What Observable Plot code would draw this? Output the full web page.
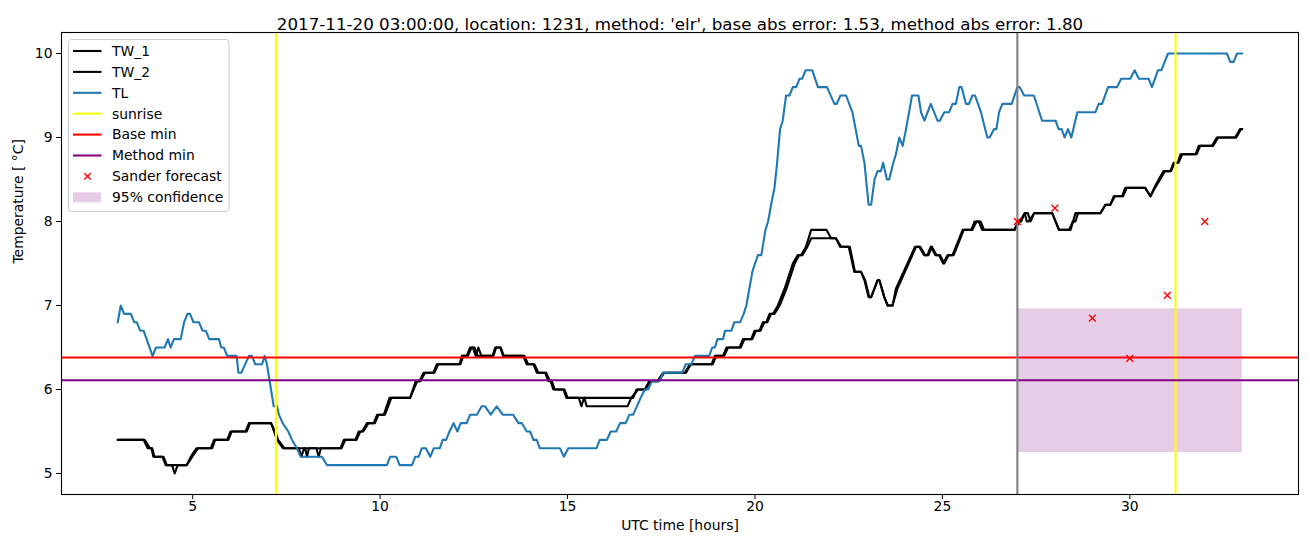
<!DOCTYPE html>
<html><head><meta charset="utf-8">
<script src="https://cdn.jsdelivr.net/npm/d3@7"></script>
<script src="https://cdn.jsdelivr.net/npm/@observablehq/plot@0.6"></script>
<style>body{margin:0;background:#fff} svg{display:block}</style>
</head><body><div id="chart"></div>
<script>
// ---- data (hours UTC, temperature °C) ----
const tlHours = [3.0,3.08,3.17,3.35,3.44,3.51,3.6,3.69,3.93,4.02,4.25,4.34,4.41,4.5,4.68,4.77,4.86,4.93,5.02,5.17,5.26,5.35,5.44,5.7,5.76,5.83,5.92,6.17,6.22,6.3,6.5,6.58,6.67,6.85,6.92,6.98,7.09,7.16,7.25,7.3,7.4,7.55,7.65,7.78,7.88,8.45,8.58,10.18,10.27,10.43,10.52,10.85,10.94,11.03,11.11,11.22,11.34,11.43,11.59,11.67,11.76,11.85,11.96,12.06,12.15,12.31,12.4,12.58,12.71,12.8,12.95,13.11,13.27,13.55,13.69,13.78,13.91,14.0,14.09,14.18,14.26,14.8,14.9,15.02,15.77,15.86,16.05,16.15,16.3,16.4,16.55,16.65,16.75,16.85,16.95,17.06,17.15,17.25,17.45,17.55,18.06,18.15,18.3,18.4,18.78,18.86,18.93,19.0,19.15,19.2,19.37,19.45,19.6,19.7,19.77,19.85,19.93,20.0,20.08,20.17,20.28,20.35,20.43,20.52,20.58,20.67,20.74,20.83,20.92,21.01,21.1,21.19,21.26,21.35,21.53,21.68,21.92,22.12,22.18,22.28,22.43,22.6,22.77,22.83,22.92,23.03,23.1,23.19,23.27,23.36,23.42,23.52,23.58,23.69,23.76,23.85,23.94,24.03,24.19,24.36,24.43,24.52,24.69,24.87,24.93,25.05,25.18,25.27,25.36,25.45,25.51,25.63,25.71,25.8,25.87,26.03,26.14,26.2,26.26,26.38,26.44,26.51,26.6,26.85,27.0,27.06,27.18,27.44,27.66,28.02,28.1,28.18,28.26,28.35,28.44,28.6,29.08,29.17,29.26,29.42,29.66,29.77,30.01,30.13,30.24,30.5,30.59,30.75,30.84,31.02,32.59,32.68,32.77,32.86,33.0];
const tlValues = [6.8,7.0,6.9,6.9,6.8,6.8,6.7,6.7,6.4,6.5,6.5,6.6,6.5,6.6,6.6,6.8,6.9,6.9,6.8,6.8,6.7,6.7,6.6,6.6,6.5,6.5,6.4,6.4,6.2,6.2,6.4,6.4,6.3,6.3,6.4,6.3,6.0,5.8,5.8,5.7,5.6,5.5,5.4,5.3,5.2,5.2,5.1,5.1,5.2,5.2,5.1,5.1,5.2,5.2,5.3,5.3,5.2,5.3,5.3,5.4,5.4,5.5,5.6,5.5,5.6,5.6,5.7,5.7,5.8,5.8,5.7,5.8,5.7,5.7,5.6,5.6,5.5,5.5,5.4,5.4,5.3,5.3,5.2,5.3,5.3,5.4,5.4,5.5,5.5,5.6,5.6,5.7,5.7,5.8,5.9,6.0,6.0,6.1,6.1,6.2,6.2,6.3,6.3,6.4,6.4,6.5,6.5,6.6,6.6,6.7,6.7,6.8,6.8,6.9,7.0,7.2,7.4,7.5,7.6,7.6,7.9,8.0,8.2,8.4,8.65,9.1,9.2,9.5,9.5,9.6,9.6,9.7,9.7,9.8,9.8,9.6,9.6,9.4,9.4,9.5,9.5,9.3,8.9,8.9,8.7,8.2,8.2,8.5,8.6,8.6,8.7,8.5,8.5,8.7,8.8,9.0,8.9,9.1,9.5,9.5,9.3,9.2,9.4,9.2,9.2,9.3,9.3,9.4,9.4,9.6,9.6,9.4,9.4,9.5,9.5,9.3,9.1,9.0,9.0,9.1,9.1,9.3,9.4,9.4,9.6,9.6,9.5,9.5,9.2,9.2,9.1,9.1,9.0,9.1,9.0,9.3,9.3,9.4,9.4,9.6,9.6,9.7,9.7,9.8,9.7,9.7,9.6,9.8,9.8,10.0,10.0,9.9,9.9,10.0,10.0];

const tw1Hours = [3.0,3.69,3.8,3.9,3.95,4.19,4.28,4.45,4.52,4.6,4.84,4.95,5.1,5.48,5.57,5.92,6.01,6.41,6.5,7.09,7.17,7.25,7.41,7.83,7.9,7.97,8.0,8.05,8.1,8.94,9.03,9.34,9.43,9.52,9.65,9.83,9.92,10.1,10.25,10.8,10.95,11.05,11.16,11.42,11.51,12.12,12.18,12.31,12.4,12.47,12.55,12.62,12.7,13.02,13.1,13.22,13.3,13.82,13.91,14.09,14.18,14.4,14.49,14.55,14.62,14.89,14.97,15.3,15.37,15.44,16.75,16.84,17.06,17.18,17.4,17.55,18.13,18.26,18.84,18.93,19.15,19.24,19.59,19.68,19.9,19.99,20.12,20.21,20.3,20.39,20.48,20.61,20.79,21.01,21.14,21.23,21.36,21.5,21.91,22.03,22.16,22.27,22.5,22.65,22.83,22.92,23.03,23.1,23.27,23.32,23.45,23.54,23.67,23.76,24.27,24.38,24.51,24.6,24.69,24.81,24.91,25.02,25.14,25.27,25.45,25.54,25.8,25.91,26.02,26.11,26.91,27.03,27.1,27.2,27.28,27.35,27.45,27.93,28.11,28.42,28.55,29.22,29.35,29.48,29.57,29.79,29.88,30.41,30.55,30.65,30.77,30.9,31.08,31.17,31.28,31.35,31.75,31.84,32.19,32.32,32.81,32.94,33.0];
const tw1Values = [5.4,5.4,5.3,5.3,5.2,5.2,5.1,5.1,5.0,5.1,5.1,5.2,5.3,5.3,5.4,5.4,5.5,5.5,5.6,5.6,5.5,5.4,5.3,5.3,5.2,5.3,5.3,5.2,5.3,5.3,5.4,5.4,5.5,5.5,5.6,5.6,5.7,5.7,5.9,5.9,6.1,6.1,6.2,6.2,6.3,6.3,6.4,6.4,6.5,6.5,6.4,6.5,6.4,6.4,6.5,6.5,6.4,6.4,6.3,6.3,6.2,6.2,6.1,6.1,6.0,6.0,5.9,5.9,5.8,5.9,5.9,6.0,6.0,6.1,6.1,6.2,6.2,6.3,6.3,6.4,6.4,6.5,6.5,6.6,6.6,6.7,6.7,6.8,6.8,6.9,6.9,7.0,7.2,7.5,7.6,7.6,7.7,7.9,7.9,7.8,7.8,7.7,7.7,7.4,7.4,7.3,7.1,7.1,7.3,7.3,7.1,7.0,7.0,7.2,7.7,7.7,7.6,7.6,7.7,7.6,7.6,7.5,7.6,7.6,7.8,7.9,7.9,8.0,8.0,7.9,7.9,8.0,8.0,8.1,8.1,8.0,8.1,8.1,7.9,7.9,8.1,8.1,8.2,8.2,8.3,8.3,8.4,8.4,8.3,8.4,8.5,8.6,8.6,8.7,8.7,8.8,8.8,8.9,8.9,9.0,9.0,9.1,9.1];

// TW_2 as [hour, value] pairs
const tw2Series = [[3.0,5.4],[3.72,5.4],[3.86,5.3],[3.92,5.3],[3.98,5.2],[4.22,5.2],[4.31,5.1],[4.84,5.1],[4.99,5.2],[5.14,5.3],[5.52,5.3],[5.6,5.4],[5.95,5.4],[6.04,5.5],[6.44,5.5],[6.53,5.6],[7.09,5.6],[7.2,5.5],[7.28,5.4],[7.45,5.3],[8.3,5.3],[8.36,5.2],[8.42,5.3],[8.97,5.3],[9.07,5.4],[9.37,5.4],[9.47,5.5],[9.55,5.5],[9.69,5.6],[9.86,5.6],[9.96,5.7],[10.13,5.7],[10.3,5.9],[10.8,5.9],[10.99,6.1],[11.08,6.1],[11.2,6.2],[11.45,6.2],[11.55,6.3],[12.14,6.3],[12.22,6.4],[12.34,6.4],[12.44,6.5],[12.52,6.5],[12.6,6.4],[13.0,6.4],[13.07,6.5],[13.2,6.5],[13.28,6.4],[13.85,6.4],[13.95,6.3],[14.12,6.3],[14.22,6.2],[14.43,6.2],[14.53,6.1],[14.58,6.1],[14.66,6.0],[14.92,6.0],[15.0,5.9],[15.45,5.9],[15.51,5.8],[16.6,5.8],[16.7,5.9],[16.88,6.0],[17.08,6.0],[17.21,6.1],[17.43,6.1],[17.58,6.2],[18.16,6.2],[18.29,6.3],[18.87,6.3],[18.97,6.4],[19.18,6.4],[19.28,6.5],[19.62,6.5],[19.72,6.6],[19.93,6.6],[20.03,6.7],[20.15,6.7],[20.25,6.8],[20.33,6.8],[20.43,6.9],[20.52,6.9],[20.66,7.0],[20.84,7.2],[21.06,7.5],[21.18,7.6],[21.27,7.6],[21.4,7.7],[21.5,7.8],[22.16,7.8],[22.3,7.7],[22.53,7.7],[22.67,7.4],[22.83,7.4],[22.94,7.3],[23.05,7.1],[23.1,7.1],[23.27,7.3],[23.32,7.3],[23.45,7.1],[23.54,7.0],[23.67,7.0],[23.8,7.2],[24.3,7.7],[24.41,7.7],[24.54,7.6],[24.63,7.6],[24.72,7.7],[24.84,7.6],[24.94,7.6],[25.05,7.5],[25.17,7.6],[25.3,7.6],[25.48,7.8],[25.57,7.9],[25.77,7.9],[25.86,8.0],[25.97,8.0],[26.06,7.9],[26.93,7.9],[27.06,8.0],[27.2,8.1],[27.25,8.0],[27.3,8.0],[27.45,8.1],[27.93,8.1],[28.11,7.9],[28.38,7.9],[28.48,8.0],[28.55,8.0],[28.62,8.1],[29.22,8.1],[29.35,8.2],[29.48,8.2],[29.6,8.3],[29.82,8.3],[29.92,8.4],[30.41,8.4],[30.55,8.3],[30.67,8.4],[30.81,8.5],[30.94,8.6],[31.1,8.6],[31.2,8.7],[31.3,8.7],[31.4,8.8],[31.78,8.8],[31.88,8.9],[32.22,8.9],[32.36,9.0],[32.84,9.0],[32.97,9.1],[33.0,9.1]];

const sunriseHours = [7.22, 31.22];
const nowHour = [27];
const baseMin = [6.38];
const methodMin = [6.11];
const forecastHours = [27, 28, 29, 30, 31, 32];
const forecastValues = [8.0, 8.16, 6.85, 6.37, 7.12, 8.0];
const confHours = [27, 33];
const confRange = [5.25, 6.96];
const xTicks = [5, 10, 15, 20, 25, 30];
const yTicks = [5, 6, 7, 8, 9, 10];
const titleText = "2017-11-20 03:00:00, location: 1231, method: 'elr', base abs error: 1.53, method abs error: 1.80";

const toRows = (hs, vs) => hs.map((h, i) => ({h, v: vs[i]}));
const tl = toRows(tlHours, tlValues);
const tw1 = toRows(tw1Hours, tw1Values);
const tw2 = tw2Series.map(([h, v]) => ({h, v}));
const fc = toRows(forecastHours, forecastValues);
const conf = [{x1: confHours[0], x2: confHours[1], y1: confRange[0], y2: confRange[1]}];

const FONT = "DejaVu Sans";
const chart = Plot.plot({
  width: 1310, height: 547,
  marginLeft: 61, marginRight: 12, marginTop: 32, marginBottom: 53,
  style: {fontFamily: FONT, fontSize: "13.9px", color: "black", background: "white"},
  x: {domain: [1.5, 34.5]},
  y: {domain: [4.75, 10.25]},
  marks: [
    Plot.rect(conf, {x1: "x1", x2: "x2", y1: "y1", y2: "y2", fill: "purple", fillOpacity: 0.2}),
    Plot.line(tw1, {x: "h", y: "v", stroke: "black", strokeWidth: 2.08}),
    Plot.line(tw2, {x: "h", y: "v", stroke: "black", strokeWidth: 2.08}),
    Plot.line(tl, {x: "h", y: "v", stroke: "#1f77b4", strokeWidth: 2.08}),
    Plot.ruleX(sunriseHours, {stroke: "#ffff00", strokeWidth: 2.08}),
    Plot.ruleY(baseMin, {stroke: "red", strokeWidth: 2.08}),
    Plot.ruleY(methodMin, {stroke: "purple", strokeWidth: 2.08}),
    Plot.ruleX(nowHour, {stroke: "gray", strokeWidth: 2.08}),
    Plot.dot(fc, {x: "h", y: "v", symbol: "times", stroke: "red", r: 3.2, strokeWidth: 1.4}),
    Plot.frame({stroke: "black", strokeWidth: 1.1}),
    Plot.axisX(xTicks, {tickSize: 5, tickFormat: () => "", label: null}),
    Plot.text(xTicks, {x: (d) => d, frameAnchor: "bottom", dy: 16, fontSize: 13.9, fill: "black", text: (d) => String(d)}),
    Plot.axisY(yTicks, {tickSize: 5, tickPadding: 4, label: null, fontSize: 13.9, tickFormat: "d"}),
    Plot.text([titleText], {frameAnchor: "top", dy: -14, fontSize: 16.7, fill: "black"}),
    Plot.text(["UTC time [hours]"], {frameAnchor: "bottom", dy: 35, fontSize: 13.9, fill: "black"}),
    Plot.text(["Temperature [ °C]"], {frameAnchor: "left", dx: -43, rotate: -90, fontSize: 13.9, fill: "black"})
  ]
});
document.getElementById("chart").appendChild(chart);

// ---- legend (matplotlib style) ----
const svg = d3.select(chart);
const lg = svg.append("g").attr("font-family", FONT).attr("font-size", 13.9).attr("text-anchor", "start");
lg.append("rect").attr("x", 68.5).attr("y", 39.5).attr("width", 160.5).attr("height", 172)
  .attr("rx", 3).attr("fill", "white").attr("fill-opacity", 0.8).attr("stroke", "#cccccc");
const entries = [
  {label: "TW_1", kind: "line", color: "black"},
  {label: "TW_2", kind: "line", color: "black"},
  {label: "TL", kind: "line", color: "#1f77b4"},
  {label: "sunrise", kind: "line", color: "#ffff00"},
  {label: "Base min", kind: "line", color: "red"},
  {label: "Method min", kind: "line", color: "purple"},
  {label: "Sander forecast", kind: "x", color: "red"},
  {label: "95% confidence", kind: "patch", color: "purple"}
];
entries.forEach((e, i) => {
  const y = 51 + i * 20.9;
  if (e.kind === "line") {
    lg.append("line").attr("x1", 73).attr("x2", 101.5).attr("y1", y).attr("y2", y)
      .attr("stroke", e.color).attr("stroke-width", 2.08);
  } else if (e.kind === "x") {
    const s = 3.2;
    lg.append("path").attr("d", `M${87.5-s},${y-s}L${87.5+s},${y+s}M${87.5-s},${y+s}L${87.5+s},${y-s}`)
      .attr("stroke", e.color).attr("stroke-width", 1.4);
  } else {
    lg.append("rect").attr("x", 73).attr("y", y - 5).attr("width", 28).attr("height", 10)
      .attr("fill", e.color).attr("fill-opacity", 0.2);
  }
  lg.append("text").attr("x", 112).attr("y", y).attr("dy", "0.35em").attr("fill", "black")
    .attr("text-anchor", "start").text(e.label);
});
</script>
</body></html>
